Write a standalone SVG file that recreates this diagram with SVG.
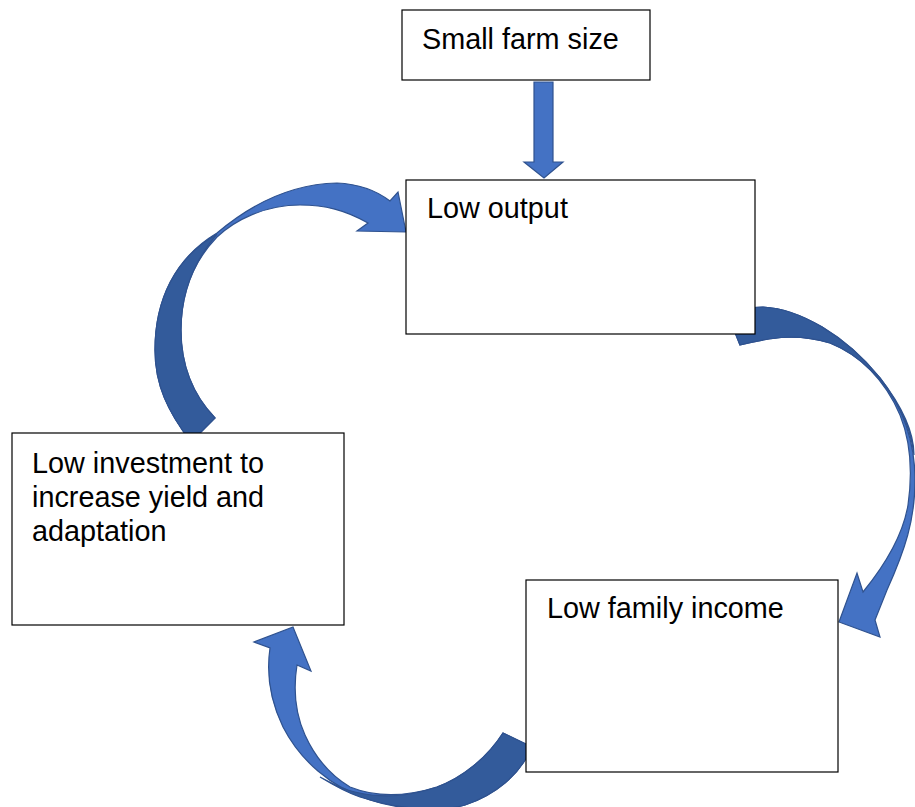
<svg xmlns="http://www.w3.org/2000/svg" width="915" height="807" viewBox="0 0 915 807">
<style>
.box{fill:#fff;stroke:#000;stroke-width:1.2}
.lbl{font-family:"Liberation Sans",Arial,sans-serif;font-size:28.8px;fill:#000}
.lt{fill:#4472C4;stroke:#2F528F;stroke-width:1.2;stroke-linejoin:miter}
.dk{fill:#335B9B;stroke:#2F528F;stroke-width:1.2;stroke-linejoin:miter}
</style>
<rect width="915" height="807" fill="#fff"/>
<g id="connectors">
  <path id="down" class="lt" d="M534,82 H553 V162 H563 L544,178 L524,162 H534 Z"/>
  <g id="arcA">
    <path class="lt" d="M191,442 C168,412 155,385 155,350 C155,300 175,258 217,233 C250,205 290,184 337,183 C360,184 377,191 390,201 L398,192 L406,232 L357,231 L368,223 C345,210 325,205 300,205 C265,205 235,220 217,237 C195,260 181,290 181,330 C181,365 193,395 215,418 Z"/>
    <path class="dk" d="M191,442 C168,412 155,385 155,350 C155,300 175,258 217,234 C195,260 181,290 181,330 C181,365 193,395 215,418 Z"/>
  </g>
  <g id="arcB">
    <path class="lt" d="M728,315 C740,309 751,307 763,307 C800,309 845,335 880,378 C905,410 915,445 915,480 C915,520 905,550 887,590 L875,620 L880,637 L839,622 L857,573 L863,592 C885,565 903,535 908,505 C913,470 910,440 900,415 C885,380 860,355 830,343 C800,334 775,336 740,345 Z"/>
    <path class="dk" d="M728,315 C740,309 751,307 763,307 C800,309 845,335 880,378 C905,410 914,435 914,455 C912,440 908,425 900,410 C885,380 860,355 830,343 C800,334 775,336 740,345 Z"/>
  </g>
  <g id="arcC">
    <path class="lt" d="M532,747 C520,775 495,795 465,805 C440,812 400,810 370,800 C330,787 300,760 283,727 C270,700 266,675 270,648 L254,642 L293,627 L311,671 L297,665 C293,690 296,715 305,735 C315,757 330,775 350,787 C375,797 405,797 437,787 C462,778 487,758 503,733 Z"/>
    <path class="dk" d="M532,747 C520,775 495,795 465,805 C440,812 400,810 360,797 C345,792 330,783 320,777 C335,785 345,790 355,792 C385,799 410,796 437,787 C462,778 487,758 503,733 Z"/>
  </g>
</g>
<g id="node-small-farm">
  <rect class="box" x="402" y="10" width="248" height="70"/>
  <text class="lbl" x="422" y="49">Small farm size</text>
</g>
<g id="node-low-output">
  <rect class="box" x="406" y="180" width="349" height="154"/>
  <text class="lbl" x="427" y="218">Low output</text>
</g>
<g id="node-low-investment">
  <rect class="box" x="12" y="433" width="332" height="192"/>
  <text class="lbl" x="32" y="473">Low investment to</text>
  <text class="lbl" x="32" y="507">increase yield and</text>
  <text class="lbl" x="32" y="541">adaptation</text>
</g>
<g id="node-low-income">
  <rect class="box" x="526" y="580" width="312" height="192"/>
  <text class="lbl" x="547" y="618">Low family income</text>
</g>
</svg>
